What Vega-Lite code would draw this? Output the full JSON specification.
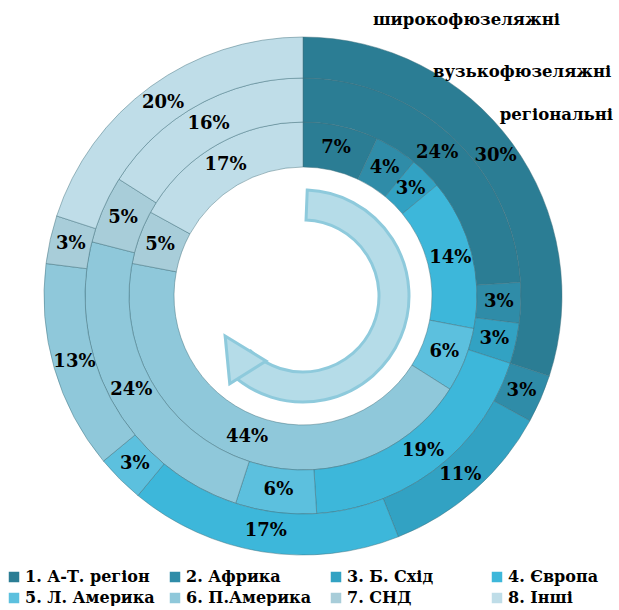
{
  "$schema": "https://vega.github.io/schema/vega-lite/v6.json",
  "width": 606,
  "height": 592,
  "padding": 0,
  "background": "white",
  "datasets": {
    "shares": [
      {"ring": "регіональні", "region": "1. А-Т. регіон", "value": 0.07},
      {"ring": "регіональні", "region": "2. Африка", "value": 0.04},
      {"ring": "регіональні", "region": "3. Б. Схід", "value": 0.03},
      {"ring": "регіональні", "region": "4. Європа", "value": 0.14},
      {"ring": "регіональні", "region": "5. Л. Америка", "value": 0.06},
      {"ring": "регіональні", "region": "6. П.Америка", "value": 0.44},
      {"ring": "регіональні", "region": "7. СНД", "value": 0.05},
      {"ring": "регіональні", "region": "8. Інші", "value": 0.17},
      {"ring": "вузькофюзеляжні", "region": "1. А-Т. регіон", "value": 0.24},
      {"ring": "вузькофюзеляжні", "region": "2. Африка", "value": 0.03},
      {"ring": "вузькофюзеляжні", "region": "3. Б. Схід", "value": 0.03},
      {"ring": "вузькофюзеляжні", "region": "4. Європа", "value": 0.19},
      {"ring": "вузькофюзеляжні", "region": "5. Л. Америка", "value": 0.06},
      {"ring": "вузькофюзеляжні", "region": "6. П.Америка", "value": 0.24},
      {"ring": "вузькофюзеляжні", "region": "7. СНД", "value": 0.05},
      {"ring": "вузькофюзеляжні", "region": "8. Інші", "value": 0.16},
      {"ring": "широкофюзеляжні", "region": "1. А-Т. регіон", "value": 0.30},
      {"ring": "широкофюзеляжні", "region": "2. Африка", "value": 0.03},
      {"ring": "широкофюзеляжні", "region": "3. Б. Схід", "value": 0.11},
      {"ring": "широкофюзеляжні", "region": "4. Європа", "value": 0.17},
      {"ring": "широкофюзеляжні", "region": "5. Л. Америка", "value": 0.03},
      {"ring": "широкофюзеляжні", "region": "6. П.Америка", "value": 0.13},
      {"ring": "широкофюзеляжні", "region": "7. СНД", "value": 0.03},
      {"ring": "широкофюзеляжні", "region": "8. Інші", "value": 0.20}
    ],
    "deco": [{"item": "arrow"}]
  },
  "config": {"view": {"stroke": null}, "font": "DejaVu Serif"},
  "layer": [
    {
      "data": {"name": "deco"},
      "mark": {"type": "arc", "theta": 0.04, "theta2": 3.9, "innerRadius": 76, "outerRadius": 106, "fill": "#b5dce8", "stroke": "#8ecadc", "strokeWidth": 3},
      "encoding": {}
    },
    {
      "data": {"name": "deco"},
      "mark": {"type": "text", "text": "▲", "theta": 4.02, "radius": 88, "angle": 328, "fontSize": 56, "font": "DejaVu Sans", "fill": "#b5dce8", "stroke": "#8ecadc", "strokeWidth": 3, "align": "center", "baseline": "middle"},
      "encoding": {}
    },
    {
      "data": {"name": "shares"},
      "transform": [{"filter": "datum.ring === 'регіональні'"}],
      "encoding": {
        "theta": {"field": "value", "type": "quantitative", "stack": "normalize"},
        "order": {"field": "region", "type": "nominal"},
        "color": {"field": "region", "type": "nominal"}
      },
      "layer": [
        {"mark": {"type": "arc", "innerRadius": 129, "outerRadius": 174, "stroke": "#3f6f7d", "strokeWidth": 0.8, "strokeOpacity": 0.6}},
        {"mark": {"type": "text", "radius": 152, "font": "DejaVu Serif", "fontWeight": "bold", "fontSize": 18, "fill": "black"},
         "encoding": {"text": {"field": "value", "type": "quantitative", "format": ".0%"}}}
      ]
    },
    {
      "data": {"name": "shares"},
      "transform": [{"filter": "datum.ring === 'вузькофюзеляжні'"}],
      "encoding": {
        "theta": {"field": "value", "type": "quantitative", "stack": "normalize"},
        "order": {"field": "region", "type": "nominal"},
        "color": {"field": "region", "type": "nominal"}
      },
      "layer": [
        {"mark": {"type": "arc", "innerRadius": 174, "outerRadius": 218, "stroke": "#3f6f7d", "strokeWidth": 0.8, "strokeOpacity": 0.6}},
        {"mark": {"type": "text", "radius": 196, "font": "DejaVu Serif", "fontWeight": "bold", "fontSize": 18, "fill": "black"},
         "encoding": {"text": {"field": "value", "type": "quantitative", "format": ".0%"}}}
      ]
    },
    {
      "data": {"name": "shares"},
      "transform": [{"filter": "datum.ring === 'широкофюзеляжні'"}],
      "encoding": {
        "theta": {"field": "value", "type": "quantitative", "stack": "normalize"},
        "order": {"field": "region", "type": "nominal"},
        "color": {
          "field": "region", "type": "nominal",
          "scale": {
            "domain": ["1. А-Т. регіон", "2. Африка", "3. Б. Схід", "4. Європа", "5. Л. Америка", "6. П.Америка", "7. СНД", "8. Інші"],
            "range": ["#2b7d94", "#2f8ca8", "#32a2c3", "#3db7da", "#5cc0de", "#8fc8da", "#a8cdd9", "#bfdde8"]
          },
          "legend": {
            "title": null,
            "orient": "none",
            "legendX": 6,
            "legendY": 569,
            "direction": "horizontal",
            "columns": 4,
            "gridAlign": "all",
            "columnPadding": 12,
            "rowPadding": 5,
            "symbolType": "square",
            "symbolSize": 110,
            "symbolStrokeWidth": 0,
            "labelFont": "DejaVu Serif",
            "labelFontWeight": "bold",
            "labelFontSize": 16,
            "labelColor": "black",
            "labelLimit": 200,
            "labelOffset": 3
          }
        }
      },
      "layer": [
        {"mark": {"type": "arc", "innerRadius": 218, "outerRadius": 259, "stroke": "#3f6f7d", "strokeWidth": 0.8, "strokeOpacity": 0.6}},
        {"mark": {"type": "text", "radius": 238, "font": "DejaVu Serif", "fontWeight": "bold", "fontSize": 18, "fill": "black"},
         "encoding": {"text": {"field": "value", "type": "quantitative", "format": ".0%"}}}
      ]
    },
    {
      "data": {"name": "deco"},
      "mark": {"type": "text", "text": "широкофюзеляжні", "theta": 0.75, "radius": 377, "font": "DejaVu Serif", "fontWeight": "bold", "fontSize": 16.5, "fill": "black", "align": "right", "baseline": "middle"},
      "encoding": {}
    },
    {
      "data": {"name": "deco"},
      "mark": {"type": "text", "text": "вузькофюзеляжні", "theta": 0.943, "radius": 381, "font": "DejaVu Serif", "fontWeight": "bold", "fontSize": 16.5, "fill": "black", "align": "right", "baseline": "middle"},
      "encoding": {}
    },
    {
      "data": {"name": "deco"},
      "mark": {"type": "text", "text": "регіональні", "theta": 1.043, "radius": 359, "font": "DejaVu Serif", "fontWeight": "bold", "fontSize": 16.5, "fill": "black", "align": "right", "baseline": "middle"},
      "encoding": {}
    }
  ]
}
